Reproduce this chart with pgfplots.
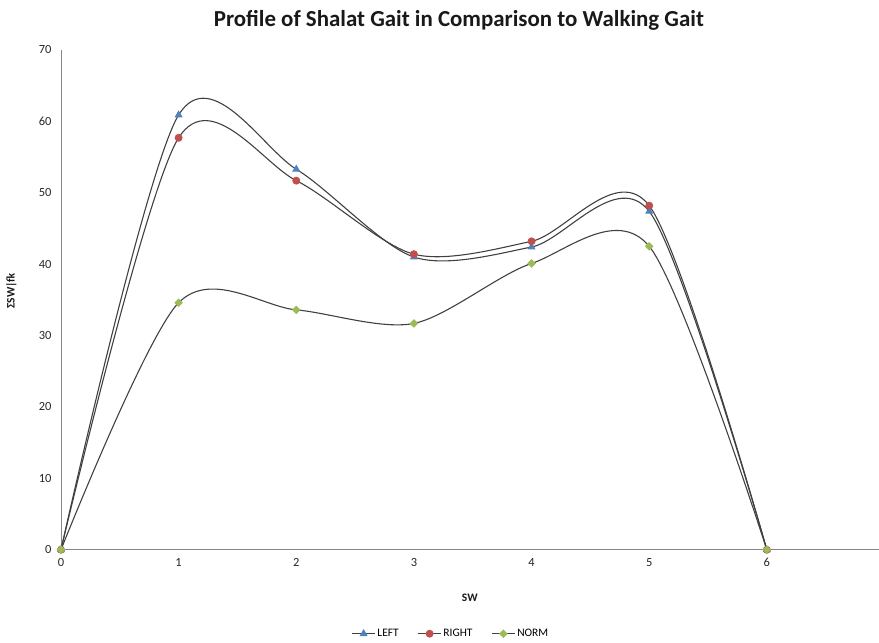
\documentclass[border=0pt]{standalone}
\usepackage{pgfplots}
\pgfplotsset{compat=1.18}
\usepackage{fontspec}
\setmainfont{Carlito}
\definecolor{cL}{HTML}{4F81BD}
\definecolor{cR}{HTML}{C0504D}
\definecolor{cN}{HTML}{9BBB59}
\definecolor{axgrey}{HTML}{868686}
\begin{document}
\begin{tikzpicture}
\begin{axis}[
  at={(0,0)}, anchor=origin,
  scale only axis, width=818bp, height=500bp,
  xmin=0, xmax=6.95, ymin=0, ymax=70,
  axis x line*=bottom, axis y line*=left,
  axis line style={axgrey, line width=0.8pt, -},
  xtick={0,1,2,3,4,5,6}, ytick={0,10,...,70},
  major tick length=0pt,
  tick label style={font=\fontsize{12.5}{14}\selectfont, text=black!85},
  /pgf/number format/assume math mode=true,
  xticklabel style={yshift=-5bp},
  yticklabel style={xshift=-6bp},
  clip=false,
  legend style={at={(0.477,-0.168)}, anchor=center, draw=none, fill=none,
    legend columns=3, font=\fontsize{11.5}{13}\selectfont,
    /tikz/every even column/.append style={column sep=17bp}},
  legend image code/.code={\draw[#1, mark repeat=2, mark phase=2] plot coordinates {(0cm,0cm) (0.4cm,0cm) (0.8cm,0cm)};},
]
\addplot[black!75, line width=1.1pt, smooth, tension=0.5,
  mark=triangle*, mark size=3.6pt, mark options={fill=cL, draw=cL, solid}]
  coordinates {(0,0) (1,60.9) (2,53.3) (3,41.0) (4,42.4) (5,47.4) (6,0)};
\addlegendentry{LEFT}
\addplot[black!75, line width=1.1pt, smooth, tension=0.5,
  mark=*, mark size=3.4pt, mark options={fill=cR, draw=cR, solid}]
  coordinates {(0,0) (1,57.7) (2,51.7) (3,41.4) (4,43.2) (5,48.2) (6,0)};
\addlegendentry{RIGHT}
\addplot[black!75, line width=1.1pt, smooth, tension=0.5,
  mark=square*, mark size=2.5pt, mark options={fill=cN, draw=cN, solid, rotate=45}]
  coordinates {(0,0) (1,34.6) (2,33.6) (3,31.7) (4,40.1) (5,42.5) (6,0)};
\addlegendentry{NORM}
\node[font=\bfseries\fontsize{23}{27}\selectfont, text=black!90] at (rel axis cs:0.4866,1.06) {Profile of Shalat Gait in Comparison to Walking Gait};
\node[font=\bfseries\fontsize{11.5}{13}\selectfont, rotate=90, text=black!90] at (rel axis cs:-0.0606,0.518) {ΣSW|fk};
\node[font=\bfseries\fontsize{11.5}{13}\selectfont, text=black!90] at (rel axis cs:0.5,-0.096) {SW};
\end{axis}
\path[use as bounding box] (-61bp,-91bp) rectangle (818bp,550bp);
\end{tikzpicture}
\end{document}
